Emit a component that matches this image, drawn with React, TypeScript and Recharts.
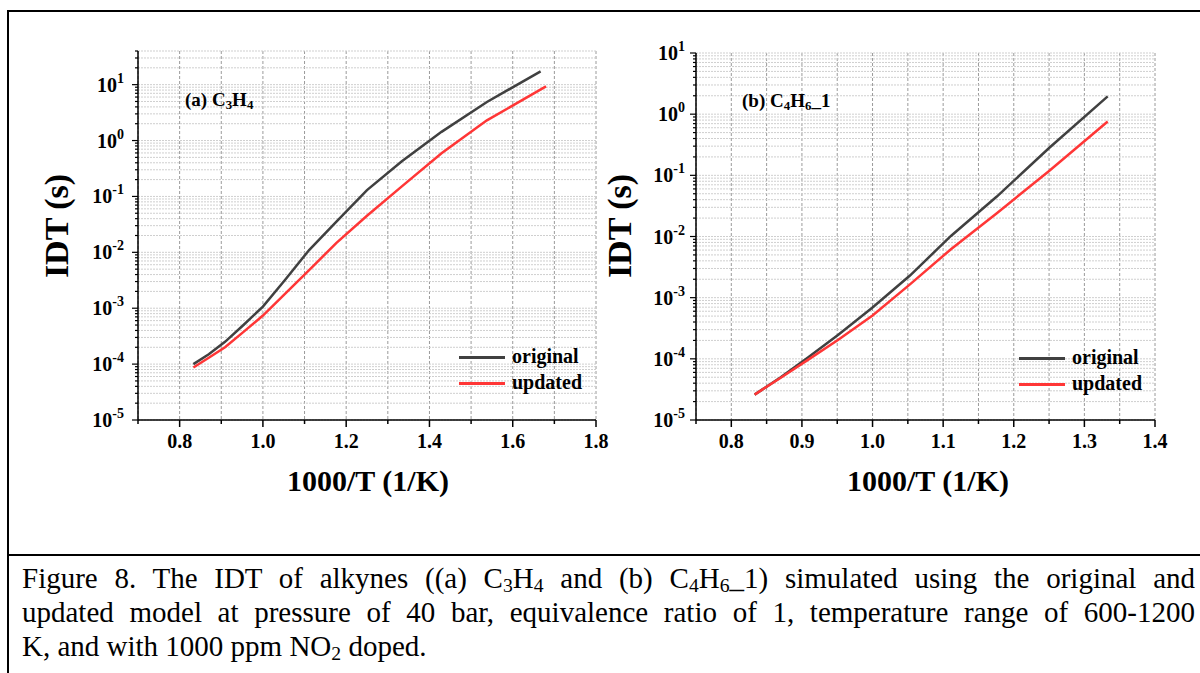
import React from 'react';
import { LineChart, Line, XAxis, YAxis, CartesianGrid } from 'recharts';

// panel (a) C3H4 : 1000/T values and ignition delay (s)
const xOrigA = [0.833, 0.87, 0.909, 0.952, 1.0, 1.053, 1.111, 1.176, 1.25, 1.333, 1.429, 1.538, 1.667];
const idtOrigA = [1.0e-4, 1.5e-4, 2.5e-4, 4.9e-4, 1.07e-3, 3.2e-3, 1.1e-2, 3.5e-2, 0.13, 0.42, 1.43, 4.9, 17.3];
const xUpdA = [0.833, 0.87, 0.909, 0.952, 1.0, 1.053, 1.111, 1.176, 1.25, 1.333, 1.429, 1.538, 1.68];
const idtUpdA = [8.7e-5, 1.3e-4, 2.0e-4, 3.7e-4, 7.4e-4, 1.8e-3, 4.8e-3, 1.46e-2, 4.5e-2, 0.15, 0.59, 2.3, 9.3];

// panel (b) C4H6_1
const xB = [0.833, 0.87, 0.909, 0.952, 1.0, 1.053, 1.111, 1.176, 1.25, 1.333];
const idtOrigB = [2.6e-5, 5.0e-5, 1.06e-4, 2.5e-4, 6.9e-4, 2.3e-3, 1.02e-2, 4.5e-2, 0.28, 1.95];
const idtUpdB = [2.6e-5, 4.9e-5, 9.7e-5, 2.07e-4, 5.1e-4, 1.65e-3, 6.2e-3, 2.4e-2, 0.118, 0.76];

// axis ticks
const xTicksA = [0.7, 0.8, 0.9, 1.0, 1.1, 1.2, 1.3, 1.4, 1.5, 1.6, 1.7, 1.8];
const xLabelsA = ['0.8', '1.0', '1.2', '1.4', '1.6', '1.8'];
const xTicksB = [0.75, 0.8, 0.85, 0.9, 0.95, 1.0, 1.05, 1.1, 1.15, 1.2, 1.25, 1.3, 1.35, 1.4];
const xLabelsB = ['0.8', '0.9', '1.0', '1.1', '1.2', '1.3', '1.4'];
const decades = [-5, -4, -3, -2, -1, 0, 1];
const minorSteps = [2, 3, 4, 5, 6, 7, 8, 9];

const ORIG = '#404040';
const UPD = '#ff3636';
const FONT = '"Liberation Serif", "Times New Roman", serif';

const pts = (xs: number[], ys: number[]) => xs.map((x, i) => ({ x, y: ys[i] }));

const buildYTicks = (max: number) => {
  const t: number[] = [];
  decades.forEach((d) => {
    const base = Math.pow(10, d);
    t.push(base);
    minorSteps.forEach((m) => {
      if (m * base <= max) t.push(m * base);
    });
  });
  return t.filter((v) => v <= max);
};

const isLabel = (v: number, labels: string[]) => labels.find((l) => Math.abs(parseFloat(l) - v) < 1e-6);
const isDecade = (v: number) => Math.abs(Math.log10(v) - Math.round(Math.log10(v))) < 1e-6;

const BottomTick = (props: any) => {
  const { x, y, payload, labels } = props;
  const lab = isLabel(payload.value, labels);
  return (
    <g>
      <line x1={x} y1={y} x2={x} y2={y + (lab ? 7 : 4)} stroke="#000" strokeWidth={1.5} />
      {lab && (
        <text x={x} y={y + 28} textAnchor="middle" fontFamily={FONT} fontWeight="bold" fontSize={20} fill="#000">
          {lab}
        </text>
      )}
    </g>
  );
};

const TopTick = (props: any) => {
  const { x, y, payload, labels } = props;
  const lab = isLabel(payload.value, labels);
  return <line x1={x} y1={y} x2={x} y2={y + (lab ? 6 : 3)} stroke="#000" strokeWidth={1.5} />;
};

const LeftTick = (props: any) => {
  const { x, y, payload, gap } = props;
  const major = isDecade(payload.value);
  const exp = Math.round(Math.log10(payload.value));
  return (
    <g>
      <line x1={x} y1={y} x2={x - (major ? 6 : 3)} y2={y} stroke="#000" strokeWidth={1.2} />
      {major && (
        <text x={x - gap} y={y + 7} textAnchor="end" fontFamily={FONT} fontWeight="bold" fontSize={20} fill="#000">
          <tspan>10</tspan>
          <tspan dy={-9} fontSize={14}>{String(exp)}</tspan>
        </text>
      )}
    </g>
  );
};

const RightTick = (props: any) => {
  const { x, y, payload } = props;
  const major = isDecade(payload.value);
  return <line x1={x} y1={y} x2={x - (major ? 6 : 3)} y2={y} stroke="#000" strokeWidth={1.2} />;
};

const LegendBox = ({ left, top }: { left: number; top: number }) => (
  <div style={{ position: 'absolute', left, top, fontFamily: FONT, fontWeight: 'bold', fontSize: 20 }}>
    {[
      { name: 'original', color: ORIG },
      { name: 'updated', color: UPD },
    ].map((s, i) => (
      <div key={s.name} style={{ position: 'absolute', left: 0, top: i * 26, width: 140, height: 24 }}>
        <div style={{ position: 'absolute', left: 0, top: 11, width: 46, height: 3, background: s.color }} />
        <div style={{ position: 'absolute', left: 53, top: -1, lineHeight: '24px', whiteSpace: 'nowrap' }}>{s.name}</div>
      </div>
    ))}
  </div>
);

type PanelProps = {
  left: number;
  width: number;
  yAxisWidth: number;
  marginTop: number;
  marginRight: number;
  xDomain: [number, number];
  yDomain: [number, number];
  xTicks: number[];
  xLabels: string[];
  gridX: number[];
  labelGap: number;
  series: { name: string; color: string; data: { x: number; y: number }[] }[];
};

const Panel = (p: PanelProps) => {
  const yTicks = buildYTicks(p.yDomain[1]);
  return (
    <div style={{ position: 'absolute', left: p.left, top: 0 }}>
      <LineChart
        width={p.width}
        height={470}
        margin={{ top: p.marginTop, right: p.marginRight, bottom: 10, left: 0 }}
      >
        <CartesianGrid
          horizontal={false}
          verticalValues={p.gridX}
          stroke="#9a9a9a"
          strokeDasharray="3 2"
          strokeWidth={1}
        />
        <CartesianGrid
          vertical={false}
          horizontalValues={yTicks}
          stroke="#cfcfcf"
          strokeDasharray="2 1"
          strokeWidth={1}
        />
        <XAxis
          dataKey="x"
          type="number"
          domain={p.xDomain}
          allowDataOverflow
          ticks={p.xTicks}
          interval={0}
          height={40}
          tickSize={0}
          tickMargin={0}
          tickLine={false}
          axisLine={{ stroke: '#000', strokeWidth: 1.5 }}
          tick={(t: any) => <BottomTick {...t} labels={p.xLabels} />}
        />
        <XAxis
          xAxisId="top"
          orientation="top"
          dataKey="x"
          type="number"
          domain={p.xDomain}
          allowDataOverflow
          ticks={p.xTicks}
          interval={0}
          height={0}
          tickSize={0}
          tickMargin={0}
          tickLine={false}
          axisLine={{ stroke: '#000', strokeWidth: 1.5 }}
          tick={(t: any) => <TopTick {...t} labels={p.xLabels} />}
        />
        <YAxis
          type="number"
          scale="log"
          domain={p.yDomain}
          allowDataOverflow
          ticks={yTicks}
          interval={0}
          width={p.yAxisWidth}
          tickSize={0}
          tickMargin={0}
          tickLine={false}
          axisLine={{ stroke: '#000', strokeWidth: 1.5 }}
          tick={(t: any) => <LeftTick {...t} gap={p.labelGap} />}
        />
        <YAxis
          yAxisId="right"
          orientation="right"
          type="number"
          scale="log"
          domain={p.yDomain}
          allowDataOverflow
          ticks={yTicks}
          interval={0}
          width={0}
          tickSize={0}
          tickMargin={0}
          tickLine={false}
          axisLine={{ stroke: '#000', strokeWidth: 1.5 }}
          tick={(t: any) => <RightTick {...t} />}
        />
        {p.series.map((s) => (
          <Line
            key={s.name}
            data={s.data}
            dataKey="y"
            name={s.name}
            type="linear"
            stroke={s.color}
            strokeWidth={2.5}
            dot={false}
            isAnimationActive={false}
          />
        ))}
      </LineChart>
    </div>
  );
};

const axisTitle: React.CSSProperties = {
  position: 'absolute',
  fontFamily: FONT,
  fontWeight: 'bold',
  fontSize: 30,
  whiteSpace: 'nowrap',
  color: '#000',
};

const sub: React.CSSProperties = { fontSize: '0.68em', verticalAlign: '-0.2em', lineHeight: 0 };

export default function App() {
  return (
    <div style={{ position: 'absolute', left: 0, top: 0, width: 1200, height: 673, background: '#fff', overflow: 'hidden' }}>
      <div
        style={{
          position: 'absolute',
          left: 7,
          top: 10,
          width: 1300,
          height: 700,
          borderLeft: '2px solid #000',
          borderTop: '2px solid #000',
        }}
      />
      <div style={{ position: 'absolute', left: 7, top: 554, width: 1200, height: 2, background: '#000' }} />

      <Panel
        left={0}
        width={620}
        yAxisWidth={138}
        marginTop={51}
        marginRight={24}
        xDomain={[0.7, 1.8]}
        yDomain={[1e-5, 40]}
        xTicks={xTicksA}
        xLabels={xLabelsA}
        gridX={xTicksA}
        labelGap={14}
        series={[
          { name: 'original', color: ORIG, data: pts(xOrigA, idtOrigA) },
          { name: 'updated', color: UPD, data: pts(xUpdA, idtUpdA) },
        ]}
      />
      <Panel
        left={600}
        width={600}
        yAxisWidth={96}
        marginTop={53}
        marginRight={45}
        xDomain={[0.75, 1.4]}
        yDomain={[1e-5, 10]}
        xTicks={xTicksB}
        xLabels={xLabelsB}
        gridX={xTicksB}
        labelGap={11}
        series={[
          { name: 'original', color: ORIG, data: pts(xB, idtOrigB) },
          { name: 'updated', color: UPD, data: pts(xB, idtUpdB) },
        ]}
      />

      {/* panel labels */}
      <div style={{ position: 'absolute', left: 185, top: 89, fontFamily: FONT, fontWeight: 'bold', fontSize: 19, whiteSpace: 'nowrap' }}>
        (a) C<span style={sub}>3</span>H<span style={sub}>4</span>
      </div>
      <div style={{ position: 'absolute', left: 742, top: 90, fontFamily: FONT, fontWeight: 'bold', fontSize: 19, whiteSpace: 'nowrap' }}>
        (b) C<span style={sub}>4</span>H<span style={sub}>6</span>_1
      </div>

      <LegendBox left={459} top={345} />
      <LegendBox left={1019} top={346} />

      {/* axis titles */}
      <div style={{ ...axisTitle, left: 368, top: 481, transform: 'translate(-50%, -50%)' }}>1000/T (1/K)</div>
      <div style={{ ...axisTitle, left: 928, top: 481, transform: 'translate(-50%, -50%)' }}>1000/T (1/K)</div>
      <div style={{ ...axisTitle, fontSize: 34, left: 57, top: 226, transform: 'translate(-50%, -50%) rotate(-90deg)' }}>IDT (s)</div>
      <div style={{ ...axisTitle, fontSize: 34, left: 620, top: 226, transform: 'translate(-50%, -50%) rotate(-90deg)' }}>IDT (s)</div>

      {/* caption */}
      <div
        style={{
          position: 'absolute',
          left: 22,
          top: 561,
          width: 1173,
          fontFamily: FONT,
          fontSize: 29,
          lineHeight: '34px',
          color: '#000',
        }}
      >
        <div style={{ textAlign: 'justify', textAlignLast: 'justify' }}>
          Figure 8. The IDT of alkynes ((a) C<span style={sub}>3</span>H<span style={sub}>4</span> and (b) C
          <span style={sub}>4</span>H<span style={sub}>6</span>_1) simulated using the original and
        </div>
        <div style={{ textAlign: 'justify', textAlignLast: 'justify' }}>
          updated model at pressure of 40 bar, equivalence ratio of 1, temperature range of 600-1200
        </div>
        <div>
          K, and with 1000 ppm NO<span style={sub}>2</span> doped.
        </div>
      </div>
    </div>
  );
}
